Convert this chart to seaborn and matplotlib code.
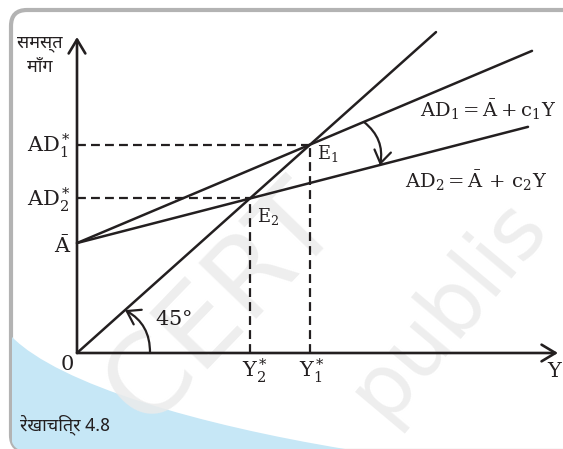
import numpy as np
import pandas as pd
import seaborn as sns
import matplotlib
matplotlib.use('Agg')
import matplotlib.pyplot as plt
from matplotlib import font_manager, ft2font
from matplotlib.patches import FancyBboxPatch, PathPatch
from matplotlib.path import Path

# values (income Y on x, aggregate demand on y, same units)
A_bar = 123
E1 = 233          # Y1* = AD1*
E2 = 173          # Y2* = AD2*
line45_x = [0, 359]
line45_y = [0, 359]
ad1_x = [0, 455]
ad1_y = [123, 338]
ad2_x = [0, 451]
ad2_y = [123, 253]

ink = '#231f20'

def devanagari_font():
    # installed families that have Devanagari glyphs, proportional ones first
    found = []
    for f in font_manager.fontManager.ttflist:
        try:
            if 0x0938 in ft2font.FT2Font(f.fname).get_charmap():
                found.append(f.name)
        except Exception:
            pass
    prefer = ['Noto Sans Devanagari', 'Noto Serif Devanagari', 'Lohit Devanagari',
              'Mukta', 'Hind', 'FreeSans', 'FreeSerif']
    for name in prefer:
        if name in found:
            return name
    for name in found:
        if 'mono' not in name.lower():
            return name
    return found[0] if found else 'DejaVu Sans'

sns.set_theme(style='white')
plt.rcParams['font.family'] = ['DejaVu Serif']
plt.rcParams['mathtext.fontset'] = 'dejavuserif'
hindi = [devanagari_font(), 'DejaVu Serif']

fig = plt.figure(figsize=(5.63, 4.49), dpi=100)

# background layer in pixel coordinates, y measured upward from the bottom
bg = fig.add_axes([0, 0, 1, 1])
bg.set_xlim(0, 563)
bg.set_ylim(0, 449)
bg.axis('off')
frame = FancyBboxPatch((11, -2), 900, 441, boxstyle='round,pad=0,rounding_size=16',
                       facecolor='white', edgecolor='#b3b3b3', lw=3, clip_on=False)
bg.add_patch(frame)
verts = [(12, 112), (60, 64), (200, 24), (345, 0), (12, 0), (12, 112)]
codes = [Path.MOVETO, Path.CURVE4, Path.CURVE4, Path.CURVE4, Path.LINETO, Path.CLOSEPOLY]
blue = PathPatch(Path(verts, codes), facecolor='#c6e7f6', edgecolor='none')
bg.add_patch(blue)
blue.set_clip_path(frame)
bg.text(222, 145, 'CERT', fontsize=80, family='DejaVu Sans', color='#ebebeb',
        rotation=46, ha='center', va='center', alpha=0.85)
bg.text(448, 140, 'publis', fontsize=62, family='DejaVu Sans', color='#ebebeb',
        rotation=50, ha='center', va='center', alpha=0.85)
bg.text(40, 406, 'समस्त', family=hindi, fontsize=13, color=ink, ha='center', va='center')
bg.text(40, 382, 'माँग', family=hindi, fontsize=13, color=ink, ha='center', va='center')
bg.text(20, 19, 'रेखाचित्र 4.8', family=hindi, fontsize=13, color=ink, ha='left', va='baseline')

# main diagram: origin at pixel (77, 353), 45 degree line drawn as y = x
ax = fig.add_axes([0, 0, 1, 1])
ax.patch.set_alpha(0)
ax.set_xlim(-77, 486)
ax.set_ylim(-107.4, 394.9)
ax.axis('off')

df = pd.concat([
    pd.DataFrame({'Y': line45_x, 'AD': line45_y, 'curve': '45'}),
    pd.DataFrame({'Y': ad1_x, 'AD': ad1_y, 'curve': 'AD1'}),
    pd.DataFrame({'Y': ad2_x, 'AD': ad2_y, 'curve': 'AD2'}),
])
sns.lineplot(data=df, x='Y', y='AD', units='curve', estimator=None, sort=False,
             color=ink, lw=1.8, ax=ax, legend=False)

dash = dict(color=ink, lw=1.6, dashes=(4, 2.3))
for e in [E1, E2]:
    ax.plot([0, e], [e, e], **dash)
    ax.plot([e, e], [0, e], **dash)

axis_arrow = dict(arrowstyle='->,head_length=0.5,head_width=0.3', lw=1.9, color=ink,
                  shrinkA=0, shrinkB=0, mutation_scale=20)
ax.annotate('', xy=(481, 0), xytext=(0, 0), arrowprops=axis_arrow)
ax.annotate('', xy=(0, 353.5), xytext=(0, 0), arrowprops=axis_arrow)

curve_arrow = dict(arrowstyle='->,head_length=0.45,head_width=0.3', lw=1.6, color=ink,
                   shrinkA=0, shrinkB=0, mutation_scale=20)
ax.annotate('', xy=(303, 210), xytext=(287, 258.4),
            arrowprops=dict(connectionstyle='arc3,rad=-0.3', **curve_arrow))
ax.annotate('', xy=(48, 48), xytext=(73, 0),
            arrowprops=dict(connectionstyle='arc3,rad=0.3', **curve_arrow))

fs = 15
ax.text(-6, 225, r'$\mathrm{AD}_1^*$', ha='right', va='baseline', fontsize=fs, color=ink)
ax.text(-6, 164, r'$\mathrm{AD}_2^*$', ha='right', va='baseline', fontsize=fs, color=ink)
ax.text(-6, 112, r'$\bar{\mathrm{A}}$', ha='right', va='baseline', fontsize=fs, color=ink)
ax.text(-3, -19, '0', ha='right', va='baseline', fontsize=fs, color=ink)
ax.text(E2 + 5, -27, r'$\mathrm{Y}_2^*$', ha='center', va='baseline', fontsize=fs, color=ink)
ax.text(E1 + 2, -27, r'$\mathrm{Y}_1^*$', ha='center', va='baseline', fontsize=fs, color=ink)
ax.text(477, -27, 'Y', ha='center', va='baseline', fontsize=fs, color=ink)
ax.text(E1 + 7, 217, r'$\mathrm{E}_1$', ha='left', va='baseline', fontsize=13, color=ink)
ax.text(E2 + 7, 146.5, r'$\mathrm{E}_2$', ha='left', va='baseline', fontsize=13, color=ink)
ax.text(78, 31, r'$45\degree$', ha='left', va='baseline', fontsize=fs, color=ink)
ax.text(343, 264, r'$\mathrm{AD}_1 = \bar{\mathrm{A}} + \mathrm{c}_1\mathrm{Y}$',
        ha='left', va='baseline', fontsize=14, color=ink)
ax.text(328, 184.6, r'$\mathrm{AD}_2 = \bar{\mathrm{A}}\,+\,\mathrm{c}_2\mathrm{Y}$',
        ha='left', va='baseline', fontsize=14, color=ink)

plt.savefig('out.png', dpi=100)
